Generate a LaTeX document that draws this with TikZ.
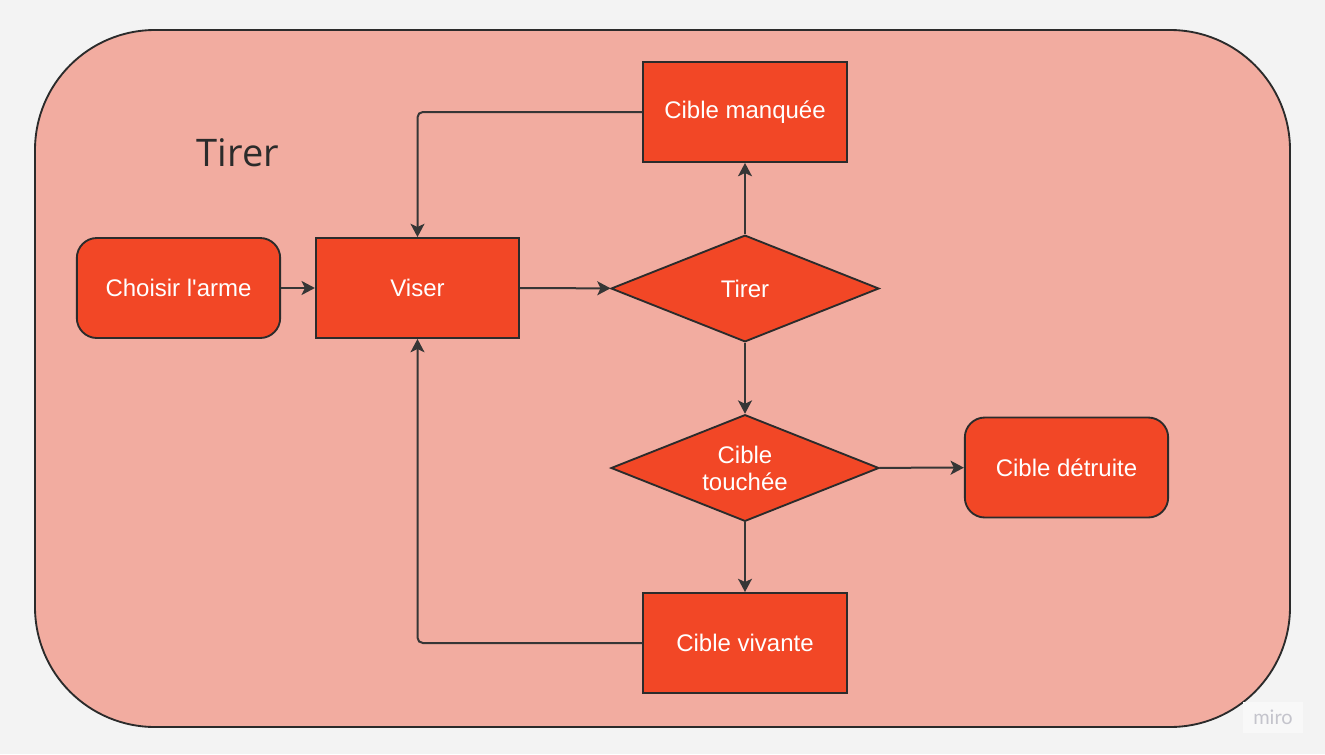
\documentclass[tikz,border=0pt]{standalone}
\usepackage{fontspec}
\setmainfont{Liberation Sans}
\newfontfamily\titlefont{Open Sans}
\newfontfamily\miroFont{Lato}
\usetikzlibrary{shapes.geometric,arrows.meta}
\definecolor{bgc}{HTML}{F3F3F3}
\definecolor{framec}{HTML}{F2ACA0}
\definecolor{boxc}{HTML}{F24726}
\definecolor{linec}{HTML}{2B2B2B}
\definecolor{arrc}{HTML}{363636}
\definecolor{miroc}{HTML}{C4C4CC}
\tikzset{
  every node/.style={font=\fontsize{18}{20.25}\selectfont, text=white},
  sqbox/.style={draw=linec, fill=boxc, line width=1.4pt, minimum width=152.5pt, minimum height=75pt, inner sep=0pt},
  rbox/.style={sqbox, rounded corners=15pt},
  dbox/.style={draw=linec, fill=boxc, line width=1.4pt, diamond, minimum width=201pt, minimum height=80pt, inner sep=0pt, align=center},
  conn/.style={draw=arrc, line width=1.5pt, -{Stealth[length=10pt,width=10.5pt,inset=2.5pt]}, rounded corners=4pt},
}
\begin{document}
\begin{tikzpicture}[x=0.75pt,y=-0.75pt]
\useasboundingbox (0,0) rectangle (1325,754);
\fill[bgc] (0,0) rectangle (1325,754);
\draw[draw=linec, fill=framec, line width=1.4pt, rounded corners=90pt] (35,30) rectangle (1290,727);
\node[text=linec, font=\titlefont\fontsize{28.5}{30}\selectfont] (title) at (238,153) {Tirer};
\node[rbox] (choisir) at (178.5,288) {Choisir l\textquotesingle arme};
\node[sqbox] (viser) at (417.5,288) {Viser};
\node[dbox] (tirer) at (745,288.5) {Tirer};
\node[sqbox] (manquee) at (745,112) {Cible manquée};
\node[dbox, label={[align=center, text=white]center:Cible\\touchée}] (touchee) at (745,468) {};
\node[rbox] (detruite) at (1066.5,467.5) {Cible détruite};
\node[sqbox] (vivante) at (745,643) {Cible vivante};
\draw[conn] (choisir) -- (viser);
\draw[conn] (viser) -- (tirer);
\draw[conn] (tirer) -- (manquee);
\draw[conn] (manquee.west) -| (viser.north);
\draw[conn] (tirer) -- (touchee);
\draw[conn] (touchee) -- (detruite);
\draw[conn] (touchee) -- (vivante);
\draw[conn] (vivante.west) -| (viser.south);
\node[fill=white!40!bgc, text=miroc, font=\miroFont\fontsize{15}{16}\selectfont, minimum width=45pt, minimum height=23pt, inner sep=0pt] (miro) at (1273,717.5) {miro};
\end{tikzpicture}
\end{document}
